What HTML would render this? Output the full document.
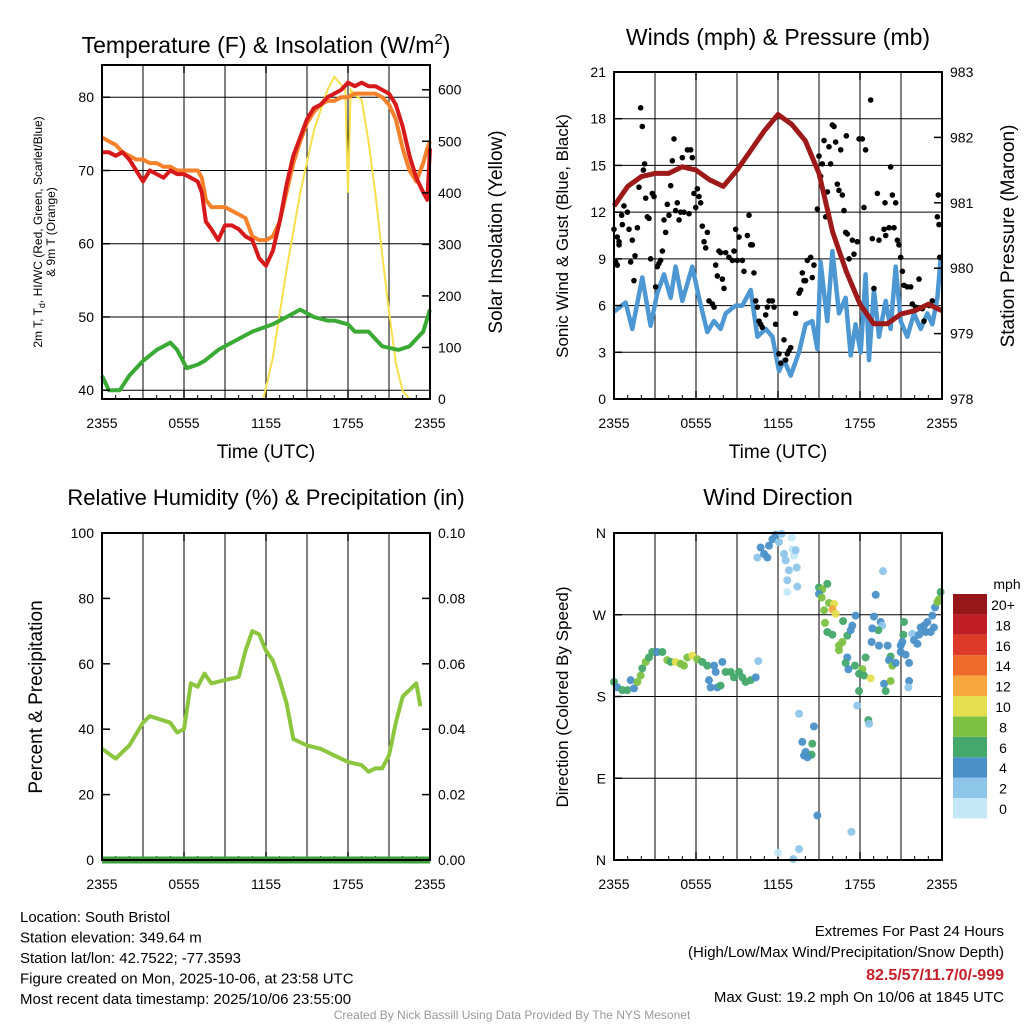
<!DOCTYPE html>
<html><head><meta charset="utf-8">
<style>
body{margin:0;background:#fff;}
svg{display:block;font-family:"Liberation Sans",sans-serif;}
</style></head>
<body>
<svg id="fig" width="1024" height="1024" viewBox="0 0 1024 1024" xmlns="http://www.w3.org/2000/svg">
<g id="layer"></g>
</svg>
<script>
// ---------- data ----------
const xTickLabels = ["2355","0555","1155","1755","2355"];
const tHours = [0,0.5,1,1.5,2,2.5,3,3.5,4,4.5,5,5.5,6,6.5,7,7.3,7.6,8,8.5,9,9.5,10,10.5,11,11.5,12,12.5,13,13.5,14,14.5,15,15.5,16,16.5,17,17.5,18,18.5,19,19.5,20,20.5,21,21.5,22,22.5,23,23.5,23.8,24];
const tempRed = [72.5,72.5,72,72.5,71.5,70,68.5,70,69.5,69,70,69.5,69.5,69,68.5,67,63,62,60.5,62.5,62.5,62,61,60.5,58,57,59,63,68,72,74.5,77,78.5,79,80,80.5,81,82,81.5,82,81.5,81.5,81,80.5,79,76,72,69,67,66,73];
const tempOrange = [74.5,74,73.5,72.5,72,71.5,71.5,71,71,70.5,70.5,70,70,70,70,69,66,65,65,65,64.5,64,63.5,61,60.5,60.5,61,63,67,71,74,76.5,78,79,79.5,79.5,80,80,80.5,80.5,80.5,80.5,80,79,77,73,70,68.5,71,73,74];
const dewHours = [0,0.5,1.3,2,3,4,4.5,5,5.5,6.2,7,7.5,8.5,10,11,12.5,13.5,14.5,15.5,16.5,17,18,18.5,19.5,20.5,21.7,22.5,23.5,24];
const dewGreen = [42,40,40,42,44,45.5,46,46.5,45.5,43,43.5,44,45.5,47,48,49,50,51,50,49.5,49.5,49,48,48,46,45.5,46,48,51];
const solHours = [0,11.8,12.5,13.5,14.5,15.5,16.5,17,17.5,17.8,18,18.2,18.5,19,19.5,20,20.5,21,21.5,22,22.5,24];
const solar = [0,0,80,250,400,520,600,625,610,600,400,600,590,580,500,400,280,170,70,15,0,0];

const windHours = [0,0.85,1.34,2.07,2.68,3.17,3.66,4.15,4.51,5.0,5.73,6.22,6.83,7.32,7.8,8.17,8.9,9.39,10.0,10.49,11.1,11.59,12.07,12.44,12.93,13.54,14.02,14.51,14.88,15.12,15.61,15.98,16.46,16.95,17.32,17.68,18.05,18.41,18.66,19.02,19.39,19.88,20.24,20.61,20.98,21.46,21.95,22.44,22.93,23.29,23.66,23.9];
const windSpeed = [5.6,6.2,4.5,7.8,4.7,6.8,8.0,6.5,8.5,6.3,8.5,6.5,4.3,5.0,4.5,5.5,6.0,6.0,7.0,4.0,4.5,4.0,1.8,2.5,1.5,3.0,4.8,5.0,3.2,8.8,5.0,9.5,5.5,6.5,2.8,4.8,3.0,8.0,2.5,7.0,4.0,6.3,4.5,8.5,5.0,4.0,5.5,4.5,5.5,4.8,6.5,9.0];
const gustHours = [0,0.24,0.37,0.12,0.24,0.37,0.56,0.61,0.73,0.98,1.1,1.22,1.34,1.46,1.54,1.71,1.83,1.95,2.07,2.15,2.24,2.32,2.44,2.56,2.68,2.8,2.93,3.05,3.17,3.29,3.41,3.54,3.66,3.78,3.9,4.02,4.15,4.27,4.39,4.51,4.63,4.76,4.88,5.0,5.12,5.37,5.49,5.61,5.73,5.85,5.98,6.1,6.22,6.34,6.46,6.59,6.71,6.83,6.95,7.2,7.32,7.44,7.56,7.68,7.8,7.93,8.05,8.17,8.41,8.66,8.78,8.9,9.02,9.15,9.39,9.51,9.76,9.88,10.0,10.12,10.24,10.37,10.49,10.61,10.73,10.85,11.1,11.22,11.34,11.59,11.71,11.83,12.07,12.2,12.44,12.56,12.68,12.8,12.93,13.29,13.54,13.66,13.78,13.9,14.02,14.15,14.39,14.51,14.63,14.88,15.0,15.12,15.24,15.37,15.49,15.61,15.73,15.85,15.98,16.1,16.22,16.34,16.46,16.59,16.71,16.83,16.95,17.0,17.07,17.2,17.44,17.56,17.8,17.93,18.17,18.29,18.41,18.78,18.9,19.02,19.27,19.39,19.76,19.83,19.88,20.12,20.24,20.37,20.49,20.61,20.73,20.85,20.98,21.1,21.22,21.46,21.71,21.83,22.07,22.32,22.56,22.68,23.05,23.29,23.66,23.78,23.73,23.83];
const gustSpeed = [10.9,10.4,10.1,8.8,8.6,9.9,11.8,11.2,12.4,12.0,10.9,8.8,10.2,7.6,9.2,11.0,13.6,18.7,17.5,14.7,15.1,12.9,11.7,11.6,9.0,13.2,13.0,7.2,8.5,8.7,8.9,9.5,11.5,10.7,12.5,11.8,13.7,15.3,16.7,12.1,12.6,11.5,12.0,15.5,12.0,16.0,11.9,16.0,15.5,13.2,12.3,13.5,13.0,12.6,11.1,10.1,9.7,10.7,6.3,6.1,5.9,8.6,7.9,9.5,9.4,7.7,7.1,9.4,9.1,8.9,9.5,10.9,8.9,10.4,8.9,8.2,10.5,11.8,9.9,9.9,8.1,6.3,5.9,5.0,4.8,4.6,5.4,5.9,6.3,6.3,5.9,4.8,2.9,2.3,3.8,2.5,2.9,3.1,3.3,5.5,6.8,7.0,8.1,7.6,7.6,8.9,9.1,7.8,8.6,12.2,15.6,14.3,15.1,16.6,11.7,13.3,16.2,15.1,17.6,17.5,16.5,13.8,13.4,16.0,13.1,12.1,10.7,16.9,10.6,9.0,10.2,9.3,10.1,16.7,16.7,12.3,16.0,19.2,10.3,7.1,13.2,10.2,10.9,12.6,10.5,11.0,14.9,13.1,11.0,12.6,10.2,9.9,9.1,8.2,7.3,7.2,7.2,6.1,5.9,7.7,5.8,5.0,6.0,6.3,11.7,11.2,13.1,9.1];
const presHours = [0,1,2,3,4,5,6,7,8,9,10,11,12,13,14,15,16,17,18,19,20,21,22,23,24];
const pressure = [980.95,981.25,981.4,981.45,981.45,981.55,981.5,981.35,981.25,981.5,981.8,982.1,982.35,982.2,981.95,981.45,980.55,979.95,979.45,979.15,979.15,979.3,979.35,979.45,979.35];

const rhHours = [0,1,2,3,3.5,5,5.5,6,6.5,7,7.5,8,9,10,10.5,11,11.5,12,12.5,13,13.5,14,15,16,17,18,19,19.5,20,20.5,21,21.5,22,22.5,23,23.3];
const rhValues = [34,31,35,42,44,42,39,40,54,53,57,54,55,56,64,70,69,64,61,55,48,37,35,34,32,30,29,27,28,28,32,42,50,52,54,47];
const precipHours = [0,24];
const precipValues = [0,0];

const dirHours = [0,0.24,0.61,0.98,1.22,1.46,1.71,1.95,2.07,2.32,2.56,2.8,3.17,3.54,3.9,4.15,4.51,4.88,5.12,5.37,5.73,6.1,6.46,6.83,6.95,7.07,7.32,7.44,7.56,7.8,7.93,8.17,8.54,8.78,9.15,9.39,9.63,10.0,10.37,10.56,
10.49,10.73,10.98,11.22,11.34,11.59,11.83,12.07,12.27,12.44,12.56,12.8,13.0,13.05,13.17,13.29,12.68,13.37,12.68,13.41,
13.54,14.63,13.78,14.02,13.9,14.27,14.51,14.46,14.15,14.88,12.0,13.12,13.54,17.37,
15.0,15.24,15.61,15.0,15.2,15.73,16.1,15.98,16.22,15.37,16.76,15.44,15.61,15.98,16.46,16.71,17.07,17.32,17.44,17.68,16.46,17.07,16.95,17.15,17.63,18.41,18.17,17.93,18.29,18.78,17.93,17.8,18.61,18.66,19.02,19.15,19.51,19.63,19.34,18.9,18.85,19.39,19.68,20.02,20.24,20.12,20.37,20.61,19.76,19.88,20.24,21.22,21.17,20.98,21.1,20.98,21.34,21.59,21.59,21.54,21.83,21.95,22.2,22.44,22.68,22.93,23.17,23.29,23.49,23.66,23.78,23.9,23.41,22.8,22.32];
const dirDeg = [196,190,187,187,198,189,196,203,211,218,223,229,229,229,220,218,218,216,214,223,225,221,218,214,198,190,214,207,190,192,218,207,207,201,207,201,196,198,201,219,
333,344,337,333,346,353,358,350,359,337,330,319,355,342,335,341,308,322,295,301,
161,147,130,119,115,115,128,116,113,49,8,1,12,31,
300,298,304,293,289,283,282,276,271,275,263,261,251,248,236,240,247,253,258,269,231,223,217,210,214,223,210,205,203,200,186,170,154,150,268,292,262,258,253,255,240,236,318,236,224,220,214,217,194,186,197,262,248,236,240,229,226,217,197,190,249,242,238,256,258,262,251,269,278,284,287,295,256,251,248];
const dirSpeed = [6,5,6,6,4,4,8,8,6,8,6,6,4,6,8,6,10,8,8,8,10,8,6,6,4,4,4,4,4,6,4,6,6,6,6,6,6,6,4,2,
2,4,4,4,4,4,4,2,2,2,2,2,1,1,1,2,2,2,1,2,
2,4,4,4,4,4,6,6,4,4,1,2,2,2,
6,8,6,4,8,8,10,12,10,8,6,8,6,6,8,8,6,4,4,4,8,4,6,4,6,6,8,6,6,10,6,2,6,2,4,4,4,2,6,4,4,4,2,4,6,4,8,4,4,6,8,6,6,4,4,4,4,4,4,2,2,4,4,4,4,4,4,4,4,8,8,6,4,4,4];
const speedColors = ["#c5e8f7","#8ec6ea","#4a90c8","#45a86b","#7dc143","#e5df50","#f6a83e","#ee6a2a","#de3a2a","#be1e24","#96161a"];
const speedLabels = ["0","2","4","6","8","10","12","14","16","18","20+"];

// ---------- helpers ----------
const NS="http://www.w3.org/2000/svg";
const layer=document.getElementById('layer');
function el(tag,attrs,parent,text){const e=document.createElementNS(NS,tag);for(const k in attrs)e.setAttribute(k,attrs[k]);if(text!==undefined)e.textContent=text;(parent||layer).appendChild(e);return e;}
function makeScale(d0,d1,r0,r1){return v=>r0+(v-d0)/(d1-d0)*(r1-r0);}
function linePath(xs,ys,sx,sy){return xs.map((h,i)=>(i?'L':'M')+sx(h).toFixed(1)+','+sy(ys[i]).toFixed(1)).join('');}

function panelFrame(name,L,T,R,B,opts){
  const g=el('g',{});
  
  
  const sx=makeScale(0,24,L,R);
  for(let h=3;h<24;h+=3){const l=el('line',{x1:sx(h),x2:sx(h),y1:T,y2:B,stroke:'#000','stroke-width':1},g);}
  opts.hgrid.forEach(v=>{const y=opts.sy(v);const l=el('line',{x1:L,x2:R,y1:y,y2:y,stroke:'#000','stroke-width':1},g);});
  xTickLabels.forEach((t,i)=>{const x=sx(i*6);const tx=el('text',{x:x,y:B+29,'font-size':14,'text-anchor':'middle'},g,t);
    el('line',{x1:x,x2:x,y1:B,y2:B-8,stroke:'#000','stroke-width':1.5},g);el('line',{x1:x,x2:x,y1:T,y2:T+8,stroke:'#000','stroke-width':1.5},g);});
  for(let h=1;h<24;h++){if(h%6)el('line',{x1:sx(h),x2:sx(h),y1:B,y2:B-4,stroke:'#000'},g);}
  return {g,sx};
}
function border(g,L,T,R,B){const r=el('rect',{x:L,y:T,width:R-L,height:B-T,fill:'none',stroke:'#000','stroke-width':2},g);}
function ticksLeft(g,L,R,vals,sy,labels,side){vals.forEach((v,i)=>{const y=sy(v);
  if(side==='left'){el('line',{x1:L,x2:L+8,y1:y,y2:y,stroke:'#000','stroke-width':1.5},g);const t=el('text',{x:L-8,y:y+5,'font-size':14,'text-anchor':'end'},g,labels[i]);}
  else{el('line',{x1:R,x2:R-8,y1:y,y2:y,stroke:'#000','stroke-width':1.5},g);const t=el('text',{x:R+8,y:y+5,'font-size':14,'text-anchor':'start'},g,labels[i]);}});}
function text(x,y,s,size,name,extra){const t=el('text',Object.assign({x:x,y:y,'font-size':size,'text-anchor':'middle'},extra||{}),layer,s);return t;}

// ---------- Panel 1: temperature ----------
(function(){
  const L=102,T=65,R=430,B=399;
  const sy=makeScale(38.8,84.4,B,T), sy2=makeScale(0,648,B,T);
  const {g,sx}=panelFrame('temperature-panel',L,T,R,B,{hgrid:[40,50,60,70,80],sy});
  const sol=el('path',{d:linePath(solHours,solar,sx,sy2),fill:'none',stroke:'#f6df4a','stroke-width':2},g);
  
  const dw=el('path',{d:linePath(dewHours,dewGreen,sx,sy),fill:'none',stroke:'#3aaa35','stroke-width':4,'stroke-linejoin':'round'},g);
  
  const o=el('path',{d:linePath(tHours,tempOrange,sx,sy),fill:'none',stroke:'#f5822a','stroke-width':4,'stroke-linejoin':'round'},g);
  
  const r=el('path',{d:linePath(tHours,tempRed,sx,sy),fill:'none',stroke:'#d7191c','stroke-width':4,'stroke-linejoin':'round'},g);
  
  border(g,L,T,R,B);
  ticksLeft(g,L,R,[40,50,60,70,80],sy,["40","50","60","70","80"],'left');
  ticksLeft(g,L,R,[0,100,200,300,400,500,600],sy2,["0","100","200","300","400","500","600"],'right');
  const t=text(266,53,'',23,'temperature-title');
  t.innerHTML='Temperature (F) &amp; Insolation (W/m<tspan dy="-9" font-size="15">2</tspan><tspan dy="9">)</tspan>';
  text(266,458,'Time (UTC)',19,'x-axis-title');
  text(0,0,'Solar Insolation (Yellow)',19,'y2-axis-title',{transform:'translate(502,232) rotate(-90)'});
  const yl=text(0,0,'',12,'y-axis-title',{transform:'translate(42,232) rotate(-90)'});
  yl.innerHTML='<tspan x="0" dy="0">2m T, T<tspan dy="3" font-size="9">d</tspan><tspan dy="-3">, HI/WC (Red, Green, Scarlet/Blue)</tspan></tspan><tspan x="0" dy="13">&amp; 9m T (Orange)</tspan>';
})();

// ---------- Panel 2: winds ----------
(function(){
  const L=614,T=72,R=942,B=399;
  const sy=makeScale(0,21,B,T), sy2=makeScale(978,983,B,T);
  const {g,sx}=panelFrame('winds-panel',L,T,R,B,{hgrid:[3,6,9,12,15,18],sy});
  const w=el('path',{d:linePath(windHours,windSpeed,sx,sy),fill:'none',stroke:'#4d97d2','stroke-width':4.5,'stroke-linejoin':'round'},g);
  
  gustHours.forEach((h,i)=>{const c=el('circle',{cx:sx(h),cy:sy(gustSpeed[i]),r:2.8,fill:'#000'},g);
    });
  const p=el('path',{d:linePath(presHours,pressure,sx,sy2),fill:'none',stroke:'#9e1a1a','stroke-width':5,'stroke-linejoin':'round'},g);
  
  border(g,L,T,R,B);
  ticksLeft(g,L,R,[0,3,6,9,12,15,18,21],sy,["0","3","6","9","12","15","18","21"],'left');
  ticksLeft(g,L,R,[978,979,980,981,982,983],sy2,["978","979","980","981","982","983"],'right');
  text(778,45,'Winds (mph) & Pressure (mb)',23,'winds-title');
  text(778,458,'Time (UTC)',19,'x-axis-title');
  text(0,0,'Sonic Wind & Gust (Blue, Black)',17,'y-axis-title',{transform:'translate(568,236) rotate(-90)'});
  text(0,0,'Station Pressure (Maroon)',19,'y2-axis-title',{transform:'translate(1014,236) rotate(-90)'});
})();

// ---------- Panel 3: RH ----------
(function(){
  const L=102,T=533,R=430,B=860;
  const sy=makeScale(0,100,B,T), sy2=makeScale(0,0.10,B,T);
  const {g,sx}=panelFrame('humidity-panel',L,T,R,B,{hgrid:[],sy});
  const rh=el('path',{d:linePath(rhHours,rhValues,sx,sy),fill:'none',stroke:'#8cc63f','stroke-width':4,'stroke-linejoin':'round'},g);
  
  const pr=el('path',{d:linePath(precipHours,precipValues,sx,sy2),fill:'none',stroke:'#3a9e3a','stroke-width':7},g);
  
  border(g,L,T,R,B);
  ticksLeft(g,L,R,[0,20,40,60,80,100],sy,["0","20","40","60","80","100"],'left');
  ticksLeft(g,L,R,[0,0.02,0.04,0.06,0.08,0.10],sy2,["0.00","0.02","0.04","0.06","0.08","0.10"],'right');
  text(266,505,'Relative Humidity (%) & Precipitation (in)',22,'humidity-title');
  text(0,0,'Percent & Precipitation',19,'y-axis-title',{transform:'translate(42,697) rotate(-90)'});
})();

// ---------- Panel 4: wind direction ----------
(function(){
  const L=614,T=533,R=942,B=860;
  const sy=makeScale(0,360,B,T);
  const {g,sx}=panelFrame('wind-direction-panel',L,T,R,B,{hgrid:[90,180,270],sy});
  dirHours.forEach((h,i)=>{const c=el('circle',{cx:sx(h),cy:sy(dirDeg[i]),r:4,fill:speedColors[Math.min(10,Math.floor(dirSpeed[i]/2))],opacity:0.95},g);
    });
  border(g,L,T,R,B);
  ticksLeft(g,L,R,[0,90,180,270,360],sy,["N","E","S","W","N"],'left');
  text(778,505,'Wind Direction',23,'wind-direction-title');
  text(0,0,'Direction (Colored By Speed)',17,'y-axis-title',{transform:'translate(568,697) rotate(-90)'});
  const cb=el('g',{},layer);
  const h=20.4, top=594;
  speedColors.forEach((c,i)=>{const y=top+(10-i)*h;
    const r=el('rect',{x:953,y:y,width:34,height:h,fill:c},cb);
    const t=el('text',{x:1003,y:y+16,'font-size':14,'text-anchor':'middle'},cb,speedLabels[i]);});
  const u=el('text',{x:1007,y:589,'font-size':14,'text-anchor':'middle'},cb,'mph');
})();

// ---------- footer ----------
const info=["Location: South Bristol","Station elevation: 349.64 m","Station lat/lon: 42.7522; -77.3593","Figure created on Mon, 2025-10-06, at 23:58 UTC","Most recent data timestamp: 2025/10/06 23:55:00"];
info.forEach((s,i)=>text(20,922+i*20.5,s,15,'station-info-line',{'text-anchor':'start'}));
text(1004,936,'Extremes For Past 24 Hours',15,'extremes-title',{'text-anchor':'end'});
text(1004,957,'(High/Low/Max Wind/Precipitation/Snow Depth)',15,'extremes-subtitle',{'text-anchor':'end'});
text(1004,980,'82.5/57/11.7/0/-999',16,'extremes-values',{'text-anchor':'end','font-weight':'bold',fill:'#c8202a'});
text(1004,1002,'Max Gust: 19.2 mph On 10/06 at 1845 UTC',15,'max-gust',{'text-anchor':'end'});
text(512,1019,'Created By Nick Bassill Using Data Provided By The NYS Mesonet',12,'credit',{fill:'#999'});
</script>
</body></html>
